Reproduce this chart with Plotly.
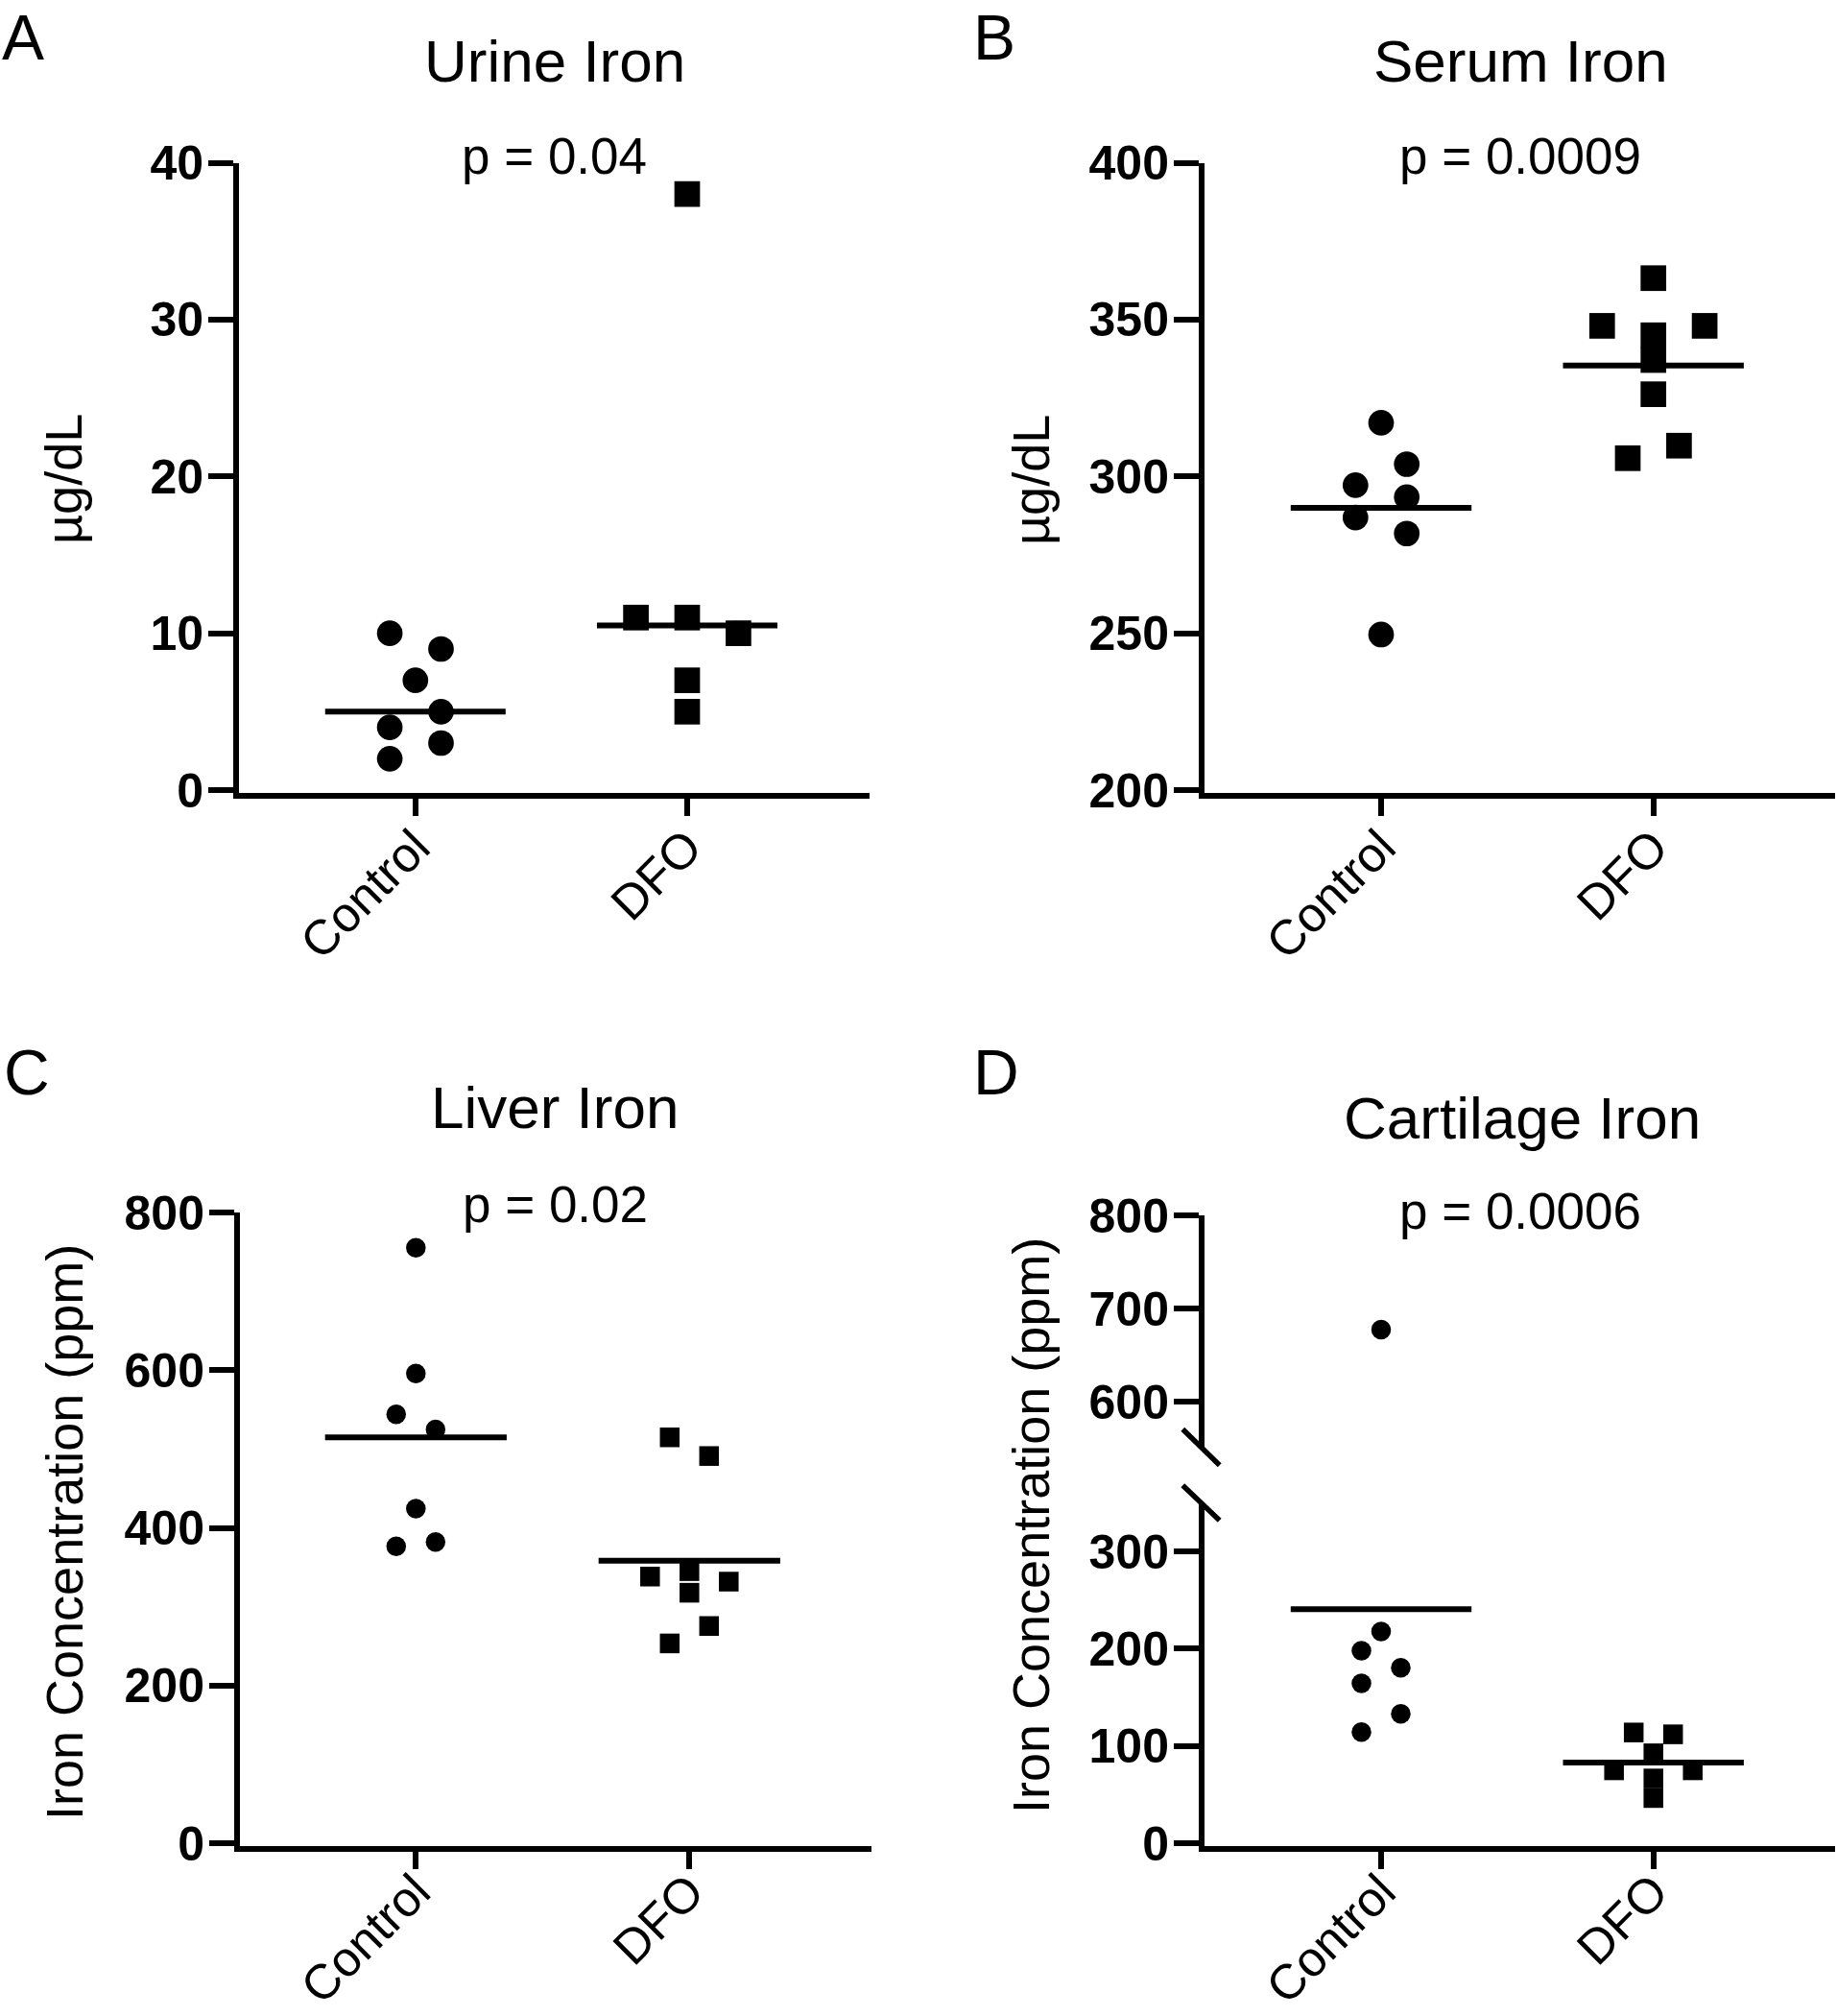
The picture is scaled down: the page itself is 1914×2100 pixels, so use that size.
import plotly.graph_objects as go

# ---------------- data ----------------
categories = ["Control", "DFO"]
titles = ["Urine Iron", "Serum Iron", "Liver Iron", "Cartilage Iron"]
panel_letters = ["A", "B", "C", "D"]
p_texts = ["p = 0.04", "p = 0.0009", "p = 0.02", "p = 0.0006"]
y_titles = ["µg/dL", "µg/dL", "Iron Concentration (ppm)", "Iron Concentration (ppm)"]

urine_control = [10, 9, 7, 4, 5, 2, 3]
urine_dfo = [38, 11, 11, 10, 7, 5]
serum_control = [317.1, 297.2, 303.9, 286.9, 293.4, 281.8, 249.6]
serum_dfo = [363.2, 348.0, 345.0, 348.0, 337.1, 326.2, 305.8, 309.8]
liver_control = [755.3, 595.7, 544.1, 524.8, 424.4, 376.5, 382.1]
liver_dfo = [514.8, 491.1, 338.2, 345.1, 331.8, 317.7, 253.4, 275.5]
cart_control = [677.5, 217.6, 197.9, 180.4, 164.3, 114.2, 133.1]
cart_dfo = [113.9, 112.0, 75.0, 92.5, 75.0, 66.6, 46.5]

urine_ticks = [0, 10, 20, 30, 40]
serum_ticks = [200, 250, 300, 350, 400]
liver_ticks = [0, 200, 400, 600, 800]
cart_ticks_low = [0, 100, 200, 300]
cart_ticks_high = [600, 700, 800]
center_stat = ["median", "mean", "mean", "mean"]

# ---------------- layout constants (pixels) ----------------
W, H = 1914, 2100
LW = 6
FONT = "Liberation Sans, Arial, sans-serif"
BLACK = "#000000"


def px_x(p):
    return p / W


def px_y(p):
    return 1 - p / H


panels = [
    dict(X=246, Y=829, Ytop=169.5, Xend=905.7, c0=432.8, c1=716.0, yr=(0, 40), ticks=urine_ticks,
         data=(urine_control, urine_dfo), d=26.7, cat_standoff=-18),
    dict(X=1252, Y=829, Ytop=169.5, Xend=1912, c0=1439.0, c1=1722.7, yr=(200, 400), ticks=serum_ticks,
         data=(serum_control, serum_dfo), d=26.7, cat_standoff=-18),
    dict(X=247, Y=1926, Ytop=1263, Xend=908, c0=433.3, c1=718.3, yr=(0, 800), ticks=liver_ticks,
         data=(liver_control, liver_dfo), d=20.5, cat_standoff=-27),
    dict(X=1252, Y=1926, Ytop=1565.5, Xend=1912, c0=1439.0, c1=1722.7, yr=(0, 350), ticks=cart_ticks_low,
         data=(cart_control, cart_dfo), d=20.5, cat_standoff=-27,
         upper=dict(top=1266.3, bottom=1507.5, yr=(551, 800), ticks=cart_ticks_high)),
]


def lanes(values, ypix, d):
    """Prism-like column scatter layout: group nearby values in rows, spread rows symmetrically."""
    n = len(values)
    order = sorted(range(n), key=lambda i: (-values[i], i))
    h = 0.98 * d
    rows = []
    for i in order:
        if rows and abs(ypix(values[i]) - ypix(values[rows[-1][0]])) < h:
            rows[-1].append(i)
        else:
            rows.append([i])
    lane = {}
    placed = []
    prev = None
    for row in rows:
        k = len(row)
        if k > 1:
            for j, i in enumerate(sorted(row)):
                lane[i] = 2 * j - (k - 1)
        else:
            i = row[0]
            s = 0
            if prev is not None and lane[prev] % 2 != 0 and \
                    abs(ypix(values[prev]) - ypix(values[i])) < d:
                s = -1 if lane[prev] > 0 else 1
            cands = [s] + [c for c in (-1, 1, -2, 2, -3, 3) if c != s]
            for c in cands:
                hit = any(lane[p] == c and abs(ypix(values[p]) - ypix(values[i])) < 0.96 * d for p in placed)
                if not hit:
                    s = c
                    break
            lane[i] = s
        placed.extend(row)
        prev = row[-1] if k == 1 else max(row, key=lambda i: (-values[i], i))
    return [lane[i] for i in range(n)]


def center_value(vals, how):
    s = sorted(vals)
    if how == "median":
        m = len(s) // 2
        return s[m] if len(s) % 2 else (s[m - 1] + s[m]) / 2
    return sum(vals) / len(vals)


fig = go.Figure()
layout = dict(
    width=W, height=H, margin=dict(l=0, r=0, t=0, b=0, pad=0, autoexpand=False),
    paper_bgcolor="white", plot_bgcolor="white", showlegend=False,
    font=dict(family=FONT, color=BLACK),
)
annotations = []
shapes = []

tick_font = dict(family=FONT, size=50, color=BLACK, weight="bold")
cat_font = dict(family=FONT, size=51, color=BLACK)
YSTAND = -5

for k, P in enumerate(panels):
    idx = k + 1
    xa = "xaxis" if idx == 1 else f"xaxis{idx}"
    ya = "yaxis" if idx == 1 else f"yaxis{idx}"
    xref = "x" if idx == 1 else f"x{idx}"
    yref = "y" if idx == 1 else f"y{idx}"

    xppu = P["c1"] - P["c0"]
    dom_x0 = P["X"] + LW / 2
    r0 = -(P["c0"] - dom_x0) / xppu
    r1 = r0 + (P["Xend"] - dom_x0) / xppu

    ymin, ymax = P["yr"]
    yppu = (P["Y"] - P["Ytop"]) / (ymax - ymin)
    dom_yb = P["Y"] - LW / 2
    yr0 = ymin - (LW / 2) / yppu

    layout[xa] = dict(
        domain=[px_x(dom_x0), px_x(P["Xend"])], range=[r0, r1], anchor=yref, automargin=False,
        showline=True, linecolor=BLACK, linewidth=LW, showgrid=False, zeroline=False,
        ticks="outside", ticklen=18, tickwidth=LW, tickcolor=BLACK, ticklabelstandoff=P["cat_standoff"],
        tickvals=[0, 1], ticktext=categories, tickangle=-45, tickfont=cat_font,
    )
    layout[ya] = dict(
        domain=[px_y(dom_yb), px_y(P["Ytop"])], range=[yr0, ymax], anchor=xref, automargin=False,
        showline=True, linecolor=BLACK, linewidth=LW, showgrid=False, zeroline=False,
        ticks="outside", ticklen=26, tickwidth=LW, tickcolor=BLACK, ticklabelstandoff=YSTAND,
        tickvals=P["ticks"], tickfont=tick_font,
    )

    upper = P.get("upper")
    if upper:
        uppu = (upper["bottom"] - upper["top"]) / (upper["yr"][1] - upper["yr"][0])
        layout["xaxis5"] = dict(domain=[px_x(dom_x0), px_x(P["Xend"])], range=[r0, r1], anchor="y5",
                                visible=False, showgrid=False, zeroline=False, automargin=False)
        layout["yaxis5"] = dict(
            domain=[px_y(upper["bottom"]), px_y(upper["top"])], range=list(upper["yr"]), anchor="x5",
            automargin=False,
            showline=True, linecolor=BLACK, linewidth=LW, showgrid=False, zeroline=False,
            ticks="outside", ticklen=26, tickwidth=LW, tickcolor=BLACK, ticklabelstandoff=YSTAND,
            tickvals=upper["ticks"], tickfont=tick_font,
        )

        def ypix(v, P=P, upper=upper, uppu=uppu, yppu=yppu):
            if v >= upper["yr"][0]:
                return upper["top"] + (upper["yr"][1] - v) * uppu
            return P["Y"] - (v - ymin) * yppu
    else:
        def ypix(v, P=P, yppu=yppu, ymin=ymin):
            return P["Y"] - (v - ymin) * yppu

    d = P["d"]
    for g, vals in enumerate(P["data"]):
        ln = lanes(vals, ypix, d)
        xs = [g + l * d / xppu for l in ln]
        symbol = "circle" if g == 0 else "square"
        if upper:
            lo = [(x, v) for x, v in zip(xs, vals) if v < upper["yr"][0]]
            hi = [(x, v) for x, v in zip(xs, vals) if v >= upper["yr"][0]]
            groups = [(lo, xref, yref), (hi, "x5", "y5")]
        else:
            groups = [(list(zip(xs, vals)), xref, yref)]
        for pts, xr, yrr in groups:
            if not pts:
                continue
            fig.add_trace(go.Scatter(
                x=[p[0] for p in pts], y=[p[1] for p in pts], mode="markers",
                marker=dict(symbol=symbol, size=d, color=BLACK, line=dict(width=0)),
                xaxis=xr, yaxis=yrr, hoverinfo="skip",
            ))
        c = center_value(vals, center_stat[k])
        fig.add_trace(go.Scatter(
            x=[g - 0.332, g + 0.332], y=[c, c], mode="lines",
            line=dict(color=BLACK, width=LW), xaxis=xref, yaxis=yref, hoverinfo="skip",
        ))

# break marks on the cartilage axis
for (x0, y0, x1, y1) in [(1232.3, 1488.8, 1270.7, 1526.3), (1232.3, 1547.3, 1270.7, 1583.7)]:
    shapes.append(dict(type="line", xref="paper", yref="paper",
                       x0=px_x(x0), y0=px_y(y0), x1=px_x(x1), y1=px_y(y1),
                       line=dict(color=BLACK, width=5.5)))

# text positions (pixels): (x, baseline)
title_pos = [(577.8, 85), (1584.5, 85), (578, 1175), (1585.5, 1186)]
p_pos = [(577, 181), (1584, 181), (578, 1273), (1584, 1279.7)]
letter_pos = [(0, None), (1012, None), (2, 1140), (1012, 1140)]
ytitle_pos = [(66, 499), (1074, 500), (67, 1596), (1074, 1589)]

TS, PS, LS, AS = 62, 53, 66, 54
for k in range(4):
    tx, tb = title_pos[k]
    annotations.append(dict(text=titles[k], x=px_x(tx), y=px_y(tb - 0.35 * TS), xref="paper", yref="paper",
                            showarrow=False, xanchor="center", yanchor="middle",
                            font=dict(family=FONT, size=TS, color=BLACK)))
    px_, pb = p_pos[k]
    annotations.append(dict(text=p_texts[k], x=px_x(px_), y=px_y(pb - 0.35 * PS), xref="paper", yref="paper",
                            showarrow=False, xanchor="center", yanchor="middle",
                            font=dict(family=FONT, size=PS, color=BLACK)))
    lx, lb = letter_pos[k]
    if lb is None:
        ly, lanchor = 1.0, "top"
    else:
        ly, lanchor = px_y(lb - 0.35 * LS), "middle"
    annotations.append(dict(text=panel_letters[k], x=px_x(lx), y=ly, xref="paper", yref="paper",
                            showarrow=False, xanchor="left", yanchor=lanchor,
                            font=dict(family=FONT, size=LS, color=BLACK)))
    ax_, ay_ = ytitle_pos[k]
    annotations.append(dict(text=y_titles[k], x=px_x(ax_), y=px_y(ay_), xref="paper", yref="paper",
                            showarrow=False, xanchor="center", yanchor="middle", textangle=-90,
                            font=dict(family=FONT, size=AS, color=BLACK)))

layout["annotations"] = annotations
layout["shapes"] = shapes
fig.update_layout(**layout)
fig.write_html("out.html", config={"displayModeBar": False, "staticPlot": True},
               post_script="document.body.style.margin='0';document.body.style.padding='0';")
